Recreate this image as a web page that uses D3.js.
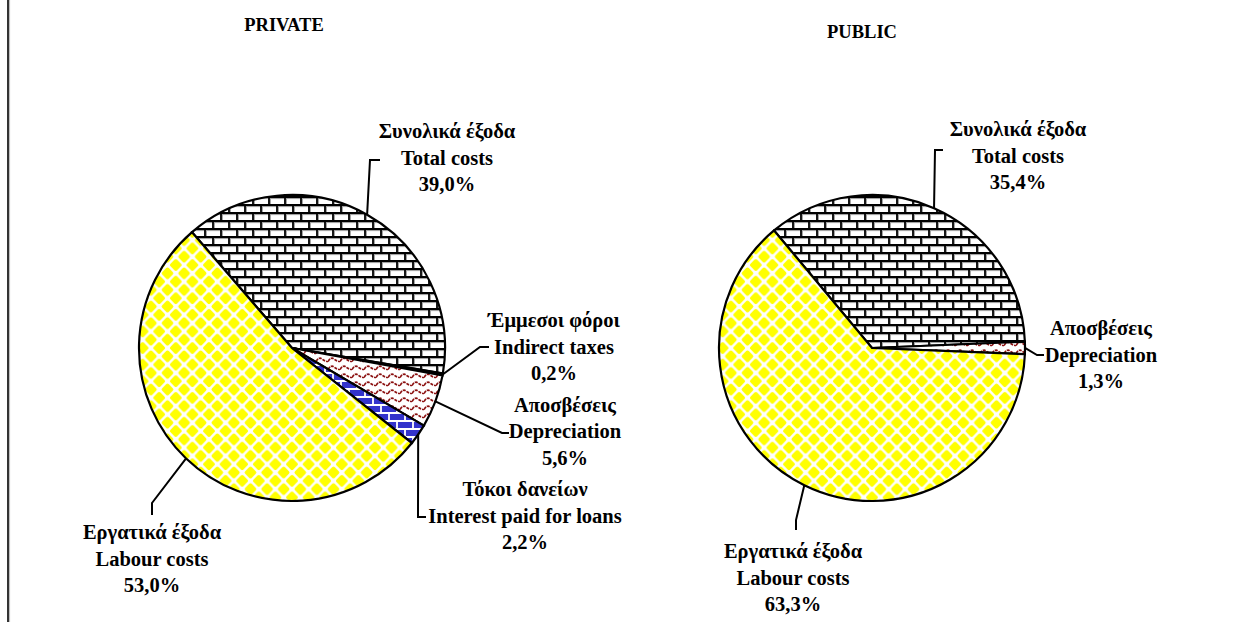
<!DOCTYPE html>
<html>
<head>
<meta charset="utf-8">
<script src="https://cdn.jsdelivr.net/npm/d3@7"></script>
<style>
  html, body { margin: 0; padding: 0; background: #fff; }
  svg { display: block; }
  text { font-family: "Liberation Serif", "Times New Roman", serif; font-weight: bold; fill: #000; }
</style>
</head>
<body>
<svg id="chart" width="1258" height="622"></svg>
<script>
// ---------- DATA ----------
const privateTitle = "PRIVATE";
const privateGreek = ["Συνολικά έξοδα", "Έμμεσοι φόροι", "Αποσβέσεις", "Τόκοι δανείων", "Εργατικά έξοδα"];
const privateEnglish = ["Total costs", "Indirect taxes", "Depreciation", "Interest paid for loans", "Labour costs"];
const privateValues = [39.0, 0.2, 5.6, 2.2, 53.0];
const privateFills = ["brick", "solid", "wave", "bluebrick", "diamond"];

const publicTitle = "PUBLIC";
const publicGreek = ["Συνολικά έξοδα", "Αποσβέσεις", "Εργατικά έξοδα"];
const publicEnglish = ["Total costs", "Depreciation", "Labour costs"];
const publicValues = [35.4, 1.3, 63.3];
const publicFills = ["brick", "wave", "diamond"];

// ---------- LAYOUT ----------
const fmt = v => d3.format(".1f")(v).replace(".", ",") + "%";
const LINE_H = 26.5;

const svg = d3.select("#chart");
const defs = svg.append("defs");

// Brick pattern
function brickPattern(id, bg, line, shade) {
  const p = defs.append("pattern").attr("id", id).attr("patternUnits", "userSpaceOnUse")
    .attr("width", 16).attr("height", 16);
  p.append("rect").attr("width", 16).attr("height", 16).attr("fill", bg);
  if (shade) {
    p.append("path").attr("d", "M0,2.6H16M0,10.6H16M2.4,2.6V8M10.4,10.6V16")
      .attr("stroke", shade).attr("stroke-width", 1);
  }
  p.append("path").attr("d", "M0,1H16M0,9H16M1,0V9M9,8V16")
    .attr("stroke", line).attr("stroke-width", 1.8);
}
brickPattern("brick", "#ffffff", "#000000", "#9a9a9a");
brickPattern("bluebrick", "#3333cc", "#ffffff", null);

// Diamond pattern (yellow on white)
(function () {
  const P = 16.6, c = P / 2;
  const p = defs.append("pattern").attr("id", "diamond").attr("patternUnits", "userSpaceOnUse")
    .attr("width", P).attr("height", P);
  p.append("rect").attr("width", P).attr("height", P).attr("fill", "#ffffff");
  const h = 4.0;
  const centers = [[c, c], [0, 0], [P, 0], [0, P], [P, P]];
  centers.forEach(([cx, cy]) => {
    p.append("path").attr("d", `M${cx},${cy - h}L${cx + h},${cy}L${cx},${cy + h}L${cx - h},${cy}Z`)
      .attr("fill", "#ffff00").attr("stroke", "#ffff00").attr("stroke-width", 3.6).attr("stroke-linejoin", "round");
  });
})();

// Wave pattern (dark red on white)
(function () {
  const p = defs.append("pattern").attr("id", "wave").attr("patternUnits", "userSpaceOnUse")
    .attr("width", 12).attr("height", 8);
  p.append("rect").attr("width", 12).attr("height", 8).attr("fill", "#ffffff");
  p.append("path").attr("d", "M0,5.5 Q3,0.5 6,3 T12,5.5")
    .attr("fill", "none").attr("stroke", "#8b1010").attr("stroke-width", 1.7)
    .attr("stroke-dasharray", "3,1");
})();

function fillFor(kind) {
  if (kind === "solid") return "#000000";
  return `url(#${kind})`;
}

function drawPie(cfg) {
  const g = svg.append("g").attr("transform", `translate(${cfg.cx},${cfg.cy})`);
  const items = cfg.values.map((v, i) => ({ v, i }));
  const pie = d3.pie().value(d => d.v).sort(null)
    .startAngle(cfg.start * Math.PI / 180)
    .endAngle(cfg.start * Math.PI / 180 + 2 * Math.PI);
  const arcs = pie(items);
  const arc = d3.arc().innerRadius(0).outerRadius(cfg.r);

  g.selectAll("path.slice").data(arcs).join("path")
    .attr("class", "slice")
    .attr("d", arc)
    .attr("fill", d => fillFor(cfg.fills[d.data.i]))
    .attr("stroke", "#000").attr("stroke-width", 2.2).attr("stroke-linejoin", "miter");

  // title
  svg.append("text").attr("x", cfg.title.x).attr("y", cfg.title.y)
    .attr("text-anchor", "middle").attr("font-size", 18.5).text(cfg.title.text);

  // labels + leader lines
  arcs.forEach(a => {
    const i = a.data.i;
    const L = cfg.labels[i];
    const mid = (a.startAngle + a.endAngle) / 2;
    const sx = cfg.cx + cfg.r * Math.sin(mid);
    const sy = cfg.cy - cfg.r * Math.cos(mid);
    const pts = [[sx, sy]].concat(L.leader);
    svg.append("path").attr("d", d3.line()(pts))
      .attr("fill", "none").attr("stroke", "#000").attr("stroke-width", 2);
    const t = svg.append("text").attr("text-anchor", "middle").attr("font-size", 20.5);
    [cfg.greek[i], cfg.english[i], fmt(cfg.values[i])].forEach((s, k) => {
      t.append("tspan").attr("x", L.x).attr("y", L.y + k * LINE_H).text(s);
    });
  });
}

// left border line
svg.append("line").attr("x1", 8).attr("x2", 8).attr("y1", 0).attr("y2", 622)
  .attr("stroke", "#000").attr("stroke-width", 1.6);
svg.append("line").attr("x1", 9.6).attr("x2", 9.6).attr("y1", 0).attr("y2", 622)
  .attr("stroke", "#bbb").attr("stroke-width", 1);

drawPie({
  cx: 292, cy: 348, r: 153, start: -40.8,
  values: privateValues, greek: privateGreek, english: privateEnglish, fills: privateFills,
  title: { text: privateTitle, x: 284, y: 31 },
  labels: [
    { x: 447, y: 138, leader: [[370, 160], [380, 160]] },
    { x: 554, y: 327, leader: [[480, 347], [489, 347]] },
    { x: 565, y: 411.5, leader: [[502, 433], [509, 433]] },
    { x: 525, y: 496, leader: [[418, 517], [426, 517]] },
    { x: 152, y: 539, leader: [[152, 503], [152, 515]] }
  ]
});

drawPie({
  cx: 872, cy: 348, r: 153, start: -39.8,
  values: publicValues, greek: publicGreek, english: publicEnglish, fills: publicFills,
  title: { text: publicTitle, x: 862, y: 38 },
  labels: [
    { x: 1018, y: 136, leader: [[935, 150], [943, 150]] },
    { x: 1101, y: 335, leader: [[1037, 355], [1044, 355]] },
    { x: 793, y: 558, leader: [[796, 520], [796, 530]] }
  ]
});
</script>
</body>
</html>
